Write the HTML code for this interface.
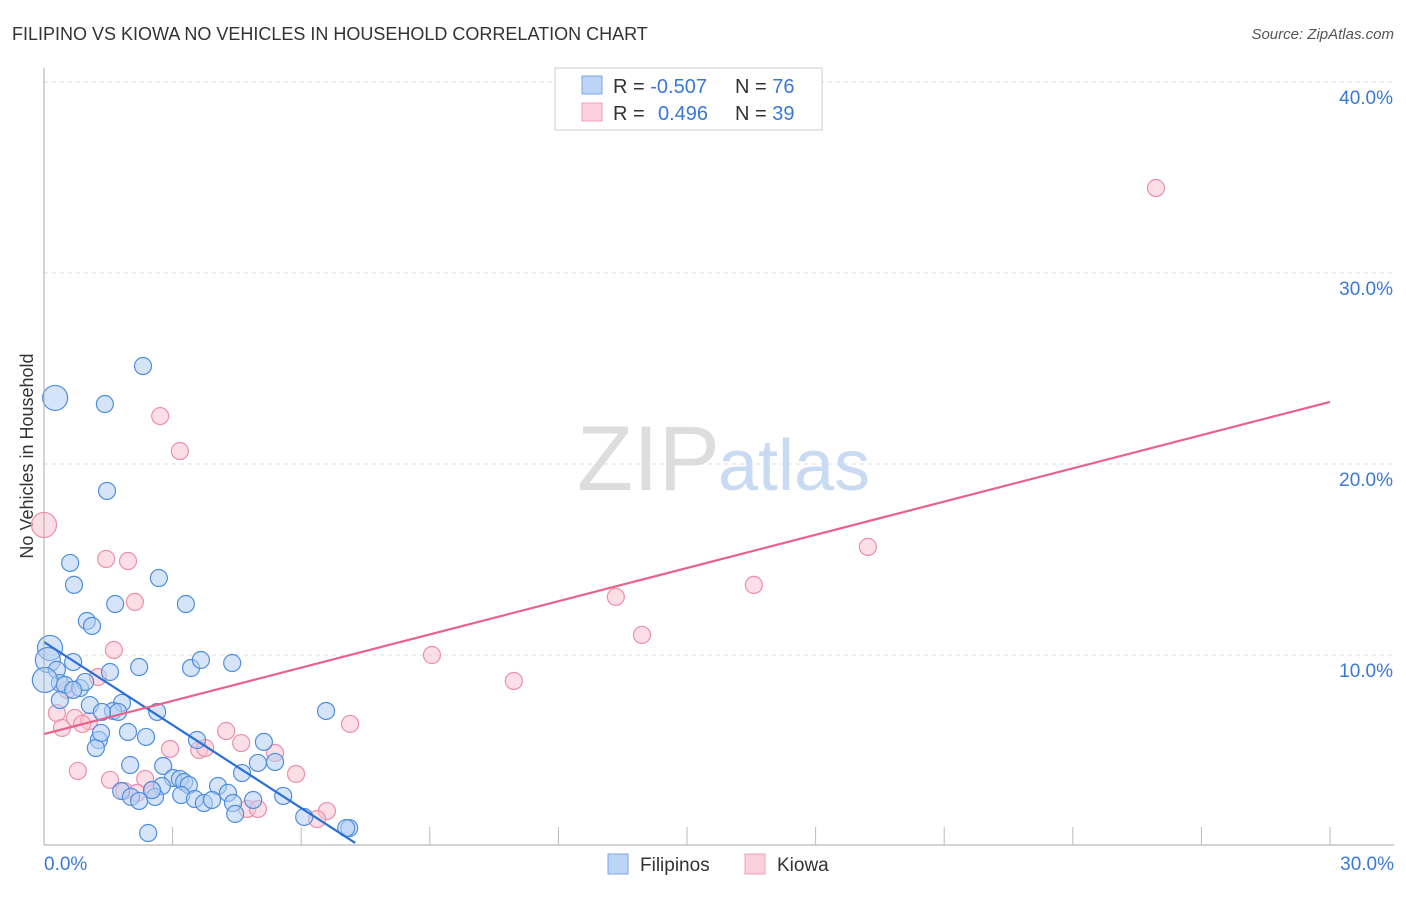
<!DOCTYPE html>
<html><head><meta charset="utf-8"><style>
body{margin:0;background:#fff;font-family:"Liberation Sans",sans-serif;}
svg text{font-family:"Liberation Sans",sans-serif;}
</style></head><body>
<svg id="c" width="1406" height="892" xmlns="http://www.w3.org/2000/svg">
<text x="12" y="40" font-size="18" fill="#333">FILIPINO VS KIOWA NO VEHICLES IN HOUSEHOLD CORRELATION CHART</text>
<text x="1394" y="39" font-size="15" fill="#555" text-anchor="end" font-style="italic">Source: ZipAtlas.com</text>
<text x="33" y="456" font-size="18" fill="#333" text-anchor="middle" transform="rotate(-90 33 456)">No Vehicles in Household</text>
<g id="grid"></g>
<text x="720" y="490" font-size="92" fill="#ddd" text-anchor="end" font-family="Liberation Serif">ZIP</text>
<text x="718" y="490" font-size="72" fill="#c9daf3">atlas</text>
<g id="pts"></g>
<g id="lines"></g>
<g id="axes"></g>
<g>
<rect x="555" y="68" width="267" height="62" fill="#fff" stroke="#ccc"/>
<rect x="582" y="76" width="20" height="18" fill="#bcd4f6" stroke="#7aa6e8"/>
<rect x="582" y="103" width="20" height="18" fill="#fbcfdb" stroke="#f0a0b8"/>
<text x="613" y="93" font-size="20" fill="#333">R = <tspan fill="#3a78d8">-0.507</tspan><tspan x="735">N = </tspan><tspan fill="#3a78d8">76</tspan></text>
<text x="613" y="120" font-size="20" fill="#333">R = <tspan x="658" fill="#3a78d8">0.496</tspan><tspan x="735">N = </tspan><tspan fill="#3a78d8">39</tspan></text>
</g>
<g>
<rect x="608" y="854" width="20" height="20" fill="#bcd4f6" stroke="#7aa6e8"/>
<text x="640" y="871" font-size="19" fill="#333">Filipinos</text>
<rect x="745" y="854" width="20" height="20" fill="#fbcfdb" stroke="#f0a0b8"/>
<text x="777" y="871" font-size="19" fill="#333">Kiowa</text>
</g>
</svg>
<script>
const blueX=[.26,2.31,1.42,1.47,.61,.70,2.68,1.66,3.31,1.00,1.12,.14,.09,.30,.68,2.22,3.43,3.66,4.39,1.54,.37,.49,.84,.96,.68,1.07,1.82,1.61,1.73,2.64,6.58,1.28,1.21,1.33,1.96,2.38,3.57,5.13,2.01,2.78,4.62,4.99,5.39,3.01,3.17,3.27,2.75,3.38,4.06,1.80,2.03,2.22,2.59,2.52,3.20,3.52,3.73,3.92,4.29,4.41,4.46,4.88,5.58,6.07,7.12,7.05,2.43,.02,.37,1.35];
const blueY=[23.46,25.13,23.14,18.59,14.82,13.67,14.03,12.67,12.67,11.78,11.52,10.37,9.74,9.22,9.63,9.37,9.32,9.74,9.58,9.11,8.53,8.43,8.27,8.59,8.17,7.38,7.49,7.07,7.02,7.02,7.07,5.55,5.13,5.92,5.97,5.71,5.55,5.45,4.24,4.19,3.82,4.35,4.40,3.56,3.51,3.35,3.14,3.19,3.14,2.88,2.57,2.36,2.57,2.93,2.67,2.46,2.25,2.41,2.78,2.25,1.68,2.41,2.62,1.52,.94,.94,.68,8.69,7.64,7.02];
const blueBig=[0,11,12,67];
const pinkX=[25.94,2.71,3.17,0,1.45,1.96,2.12,19.22,16.56,13.34,13.95,9.05,10.96,1.63,1.26,.54,.30,.42,.72,1.05,.89,7.14,4.25,4.60,2.94,3.62,3.76,5.39,.79,1.54,2.36,5.88,1.87,2.52,2.17,4.74,4.99,6.60,6.37];
const pinkY=[34.45,22.51,20.68,16.81,15.03,14.92,12.78,15.66,13.67,13.04,11.05,10.00,8.64,10.26,8.85,8.17,6.96,6.18,6.70,6.54,6.39,6.39,6.02,5.39,5.08,5.03,5.13,4.87,3.93,3.46,3.51,3.77,2.88,2.93,2.78,1.94,1.94,1.83,1.41];
const pinkBig=[3];
const blueTrend=[[0,10.68],[7.26,0.16]];
const pinkTrend=[[0,5.86],[30,23.25]];
const yTicks=[10,20,30,40];
const xTickVals=[3,6,9,12,15,18,21,24,27,30];
const X=v=>44+v/30*1286, Y=v=>846-v*19.1;
const NS='http://www.w3.org/2000/svg';
function mk(p,t,a){const e=document.createElementNS(NS,t);for(const k in a)e.setAttribute(k,a[k]);p.appendChild(e);return e;}
const g=document.getElementById('grid'),ax=document.getElementById('axes'),pts=document.getElementById('pts'),ln=document.getElementById('lines');
yTicks.forEach(v=>{const l=mk(g,'line',{x1:44,x2:1394,y1:Y(v),y2:Y(v),stroke:'#ddd','stroke-dasharray':'4,4'});


const t=mk(ax,'text',{x:1393,y:Y(v)+22,'font-size':19,fill:'#3a78d8','text-anchor':'end'});t.textContent=v.toFixed(1)+'%';

});
const a1=mk(ax,'line',{x1:44,x2:44,y1:68,y2:845,stroke:'#aaa'});


const a2=mk(ax,'line',{x1:44,x2:1394,y1:845,y2:845,stroke:'#aaa'});


xTickVals.forEach(v=>{const l=mk(ax,'line',{x1:X(v),x2:X(v),y1:827,y2:845,stroke:'#bbb'});

});
const t0=mk(ax,'text',{x:44,y:870,'font-size':19,fill:'#3a78d8'});t0.textContent='0.0%';


const t1=mk(ax,'text',{x:1394,y:870,'font-size':19,fill:'#3a78d8','text-anchor':'end'});t1.textContent='30.0%';


function draw(xs,ys,big,fill,stroke,name){xs.forEach((x,i)=>{const c=mk(pts,'circle',{cx:X(x),cy:Y(ys[i]),r:big.includes(i)?12.5:8.5,fill:fill,'fill-opacity':0.55,stroke:stroke,'stroke-width':1.2});

});}
draw(pinkX,pinkY,pinkBig,'#f9c3d2','#ec8fab','kiowa-point');
draw(blueX,blueY,blueBig,'#b3cdf3','#4f8ee0','filipino-point');
const bl=mk(ln,'line',{x1:X(blueTrend[0][0]),y1:Y(blueTrend[0][1]),x2:X(blueTrend[1][0]),y2:Y(blueTrend[1][1]),stroke:'#2a6fd6','stroke-width':2.2});


const pl=mk(ln,'line',{x1:X(pinkTrend[0][0]),y1:Y(pinkTrend[0][1]),x2:X(pinkTrend[1][0]),y2:Y(pinkTrend[1][1]),stroke:'#e8628c','stroke-width':2.2});


</script>
</body></html>
